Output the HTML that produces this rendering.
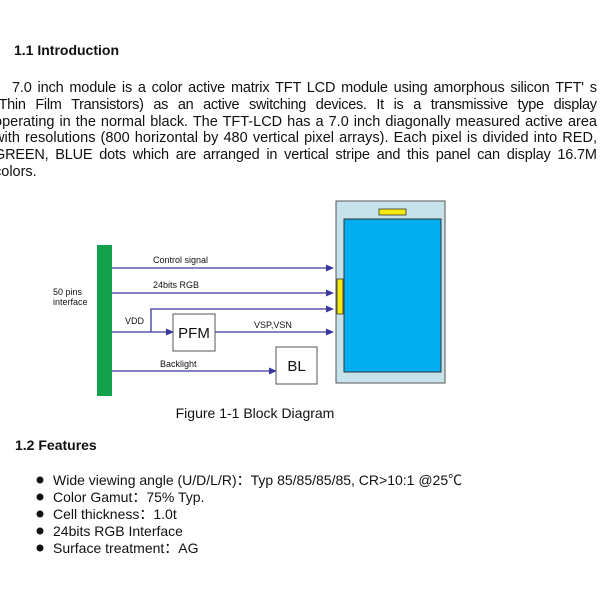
<!DOCTYPE html>
<html><head><style>
html,body{margin:0;padding:0;background:#fff;width:600px;height:600px;overflow:hidden}
svg{display:block}
.b{font-family:"Liberation Sans",Arial,sans-serif;font-size:14px;fill:#111}
.p{font-family:"Liberation Sans",Arial,sans-serif;font-size:14.5px;fill:#111;word-spacing:1px}
.s{font-family:"Liberation Sans",Arial,sans-serif;font-size:9px;fill:#111}
</style></head><body>
<svg width="600" height="600" viewBox="0 0 600 600" xmlns="http://www.w3.org/2000/svg">
<defs><marker id="a" markerWidth="8" markerHeight="8" refX="7" refY="4" orient="auto" markerUnits="userSpaceOnUse"><path d="M0,0.5 L8,4 L0,7.5 z" fill="#3a36a0"/></marker></defs>
<text x="14" y="55" class="b" style="font-weight:bold;font-size:14px">1.1 Introduction</text>
<text x="12" y="92" class="p" textLength="585" lengthAdjust="spacing" style="word-spacing:2px">7.0 inch module is a color active matrix TFT LCD module using amorphous silicon TFT' s</text>
<text x="-6" y="109" class="p" textLength="603" lengthAdjust="spacing" style="word-spacing:6px">(Thin Film Transistors) as an active switching devices. It is a transmissive type display</text>
<text x="-6" y="126" class="p" textLength="603" lengthAdjust="spacing">operating in the normal black. The TFT-LCD has a 7.0 inch diagonally measured active area</text>
<text x="-6" y="142" class="p" textLength="603" lengthAdjust="spacing">with resolutions (800 horizontal by 480 vertical pixel arrays). Each pixel is divided into RED,</text>
<text x="-6" y="159" class="p" textLength="603" lengthAdjust="spacing" style="word-spacing:3px">GREEN, BLUE dots which are arranged in vertical stripe and this panel can display 16.7M</text>
<text x="-6" y="176" class="p">colors.</text>

<rect x="336" y="201" width="109" height="182" fill="#c6e2ea" stroke="#555" stroke-width="1"/>
<rect x="344" y="219" width="97" height="153" fill="#00aeef" stroke="#333" stroke-width="1"/>
<rect x="379" y="209" width="27" height="6" fill="#f5ea10" stroke="#333" stroke-width="0.8"/>
<rect x="337" y="279" width="6" height="35" fill="#f5ea10" stroke="#333" stroke-width="0.8"/>
<rect x="97" y="245" width="15" height="151" fill="#12a04a"/>

<g stroke="#3a36a0" stroke-width="1.3" fill="none">
<line x1="112" y1="268" x2="333" y2="268" marker-end="url(#a)"/>
<line x1="112" y1="293" x2="333" y2="293" marker-end="url(#a)"/>
<polyline points="151,332 151,309 333,309" marker-end="url(#a)"/>
<line x1="112" y1="332" x2="173" y2="332" marker-end="url(#a)"/>
<line x1="215" y1="332" x2="333" y2="332" marker-end="url(#a)"/>
<line x1="112" y1="371" x2="276" y2="371" marker-end="url(#a)"/>
</g>
<rect x="173" y="314" width="42" height="37" fill="#fff" stroke="#555"/>
<rect x="276" y="347" width="41" height="37" fill="#fff" stroke="#555"/>
<text x="194" y="338" class="b" text-anchor="middle" style="font-size:15px">PFM</text>
<text x="296.5" y="371" class="b" text-anchor="middle" style="font-size:15px">BL</text>
<text x="153" y="263" class="s">Control signal</text>
<text x="153" y="288" class="s">24bits RGB</text>
<text x="125" y="324" class="s">VDD</text>
<text x="254" y="328" class="s">VSP,VSN</text>
<text x="160" y="367" class="s">Backlight</text>
<text x="53" y="295" class="s">50 pins</text>
<text x="53" y="305" class="s">interface</text>

<text x="255" y="418" class="b" text-anchor="middle">Figure 1-1 Block Diagram</text>
<text x="15" y="450" class="b" style="font-weight:bold;font-size:14px">1.2 Features</text>
<g class="b">
<circle cx="40" cy="480" r="3.5"/><text x="53" y="485">Wide viewing angle (U/D/L/R)：Typ 85/85/85/85, CR&gt;10:1 @25℃</text>
<circle cx="40" cy="497" r="3.5"/><text x="53" y="502">Color Gamut：75% Typ.</text>
<circle cx="40" cy="514" r="3.5"/><text x="53" y="519">Cell thickness：1.0t</text>
<circle cx="40" cy="531" r="3.5"/><text x="53" y="536">24bits RGB Interface</text>
<circle cx="40" cy="548" r="3.5"/><text x="53" y="553">Surface treatment：AG</text>
</g>
</svg>
</body></html>
